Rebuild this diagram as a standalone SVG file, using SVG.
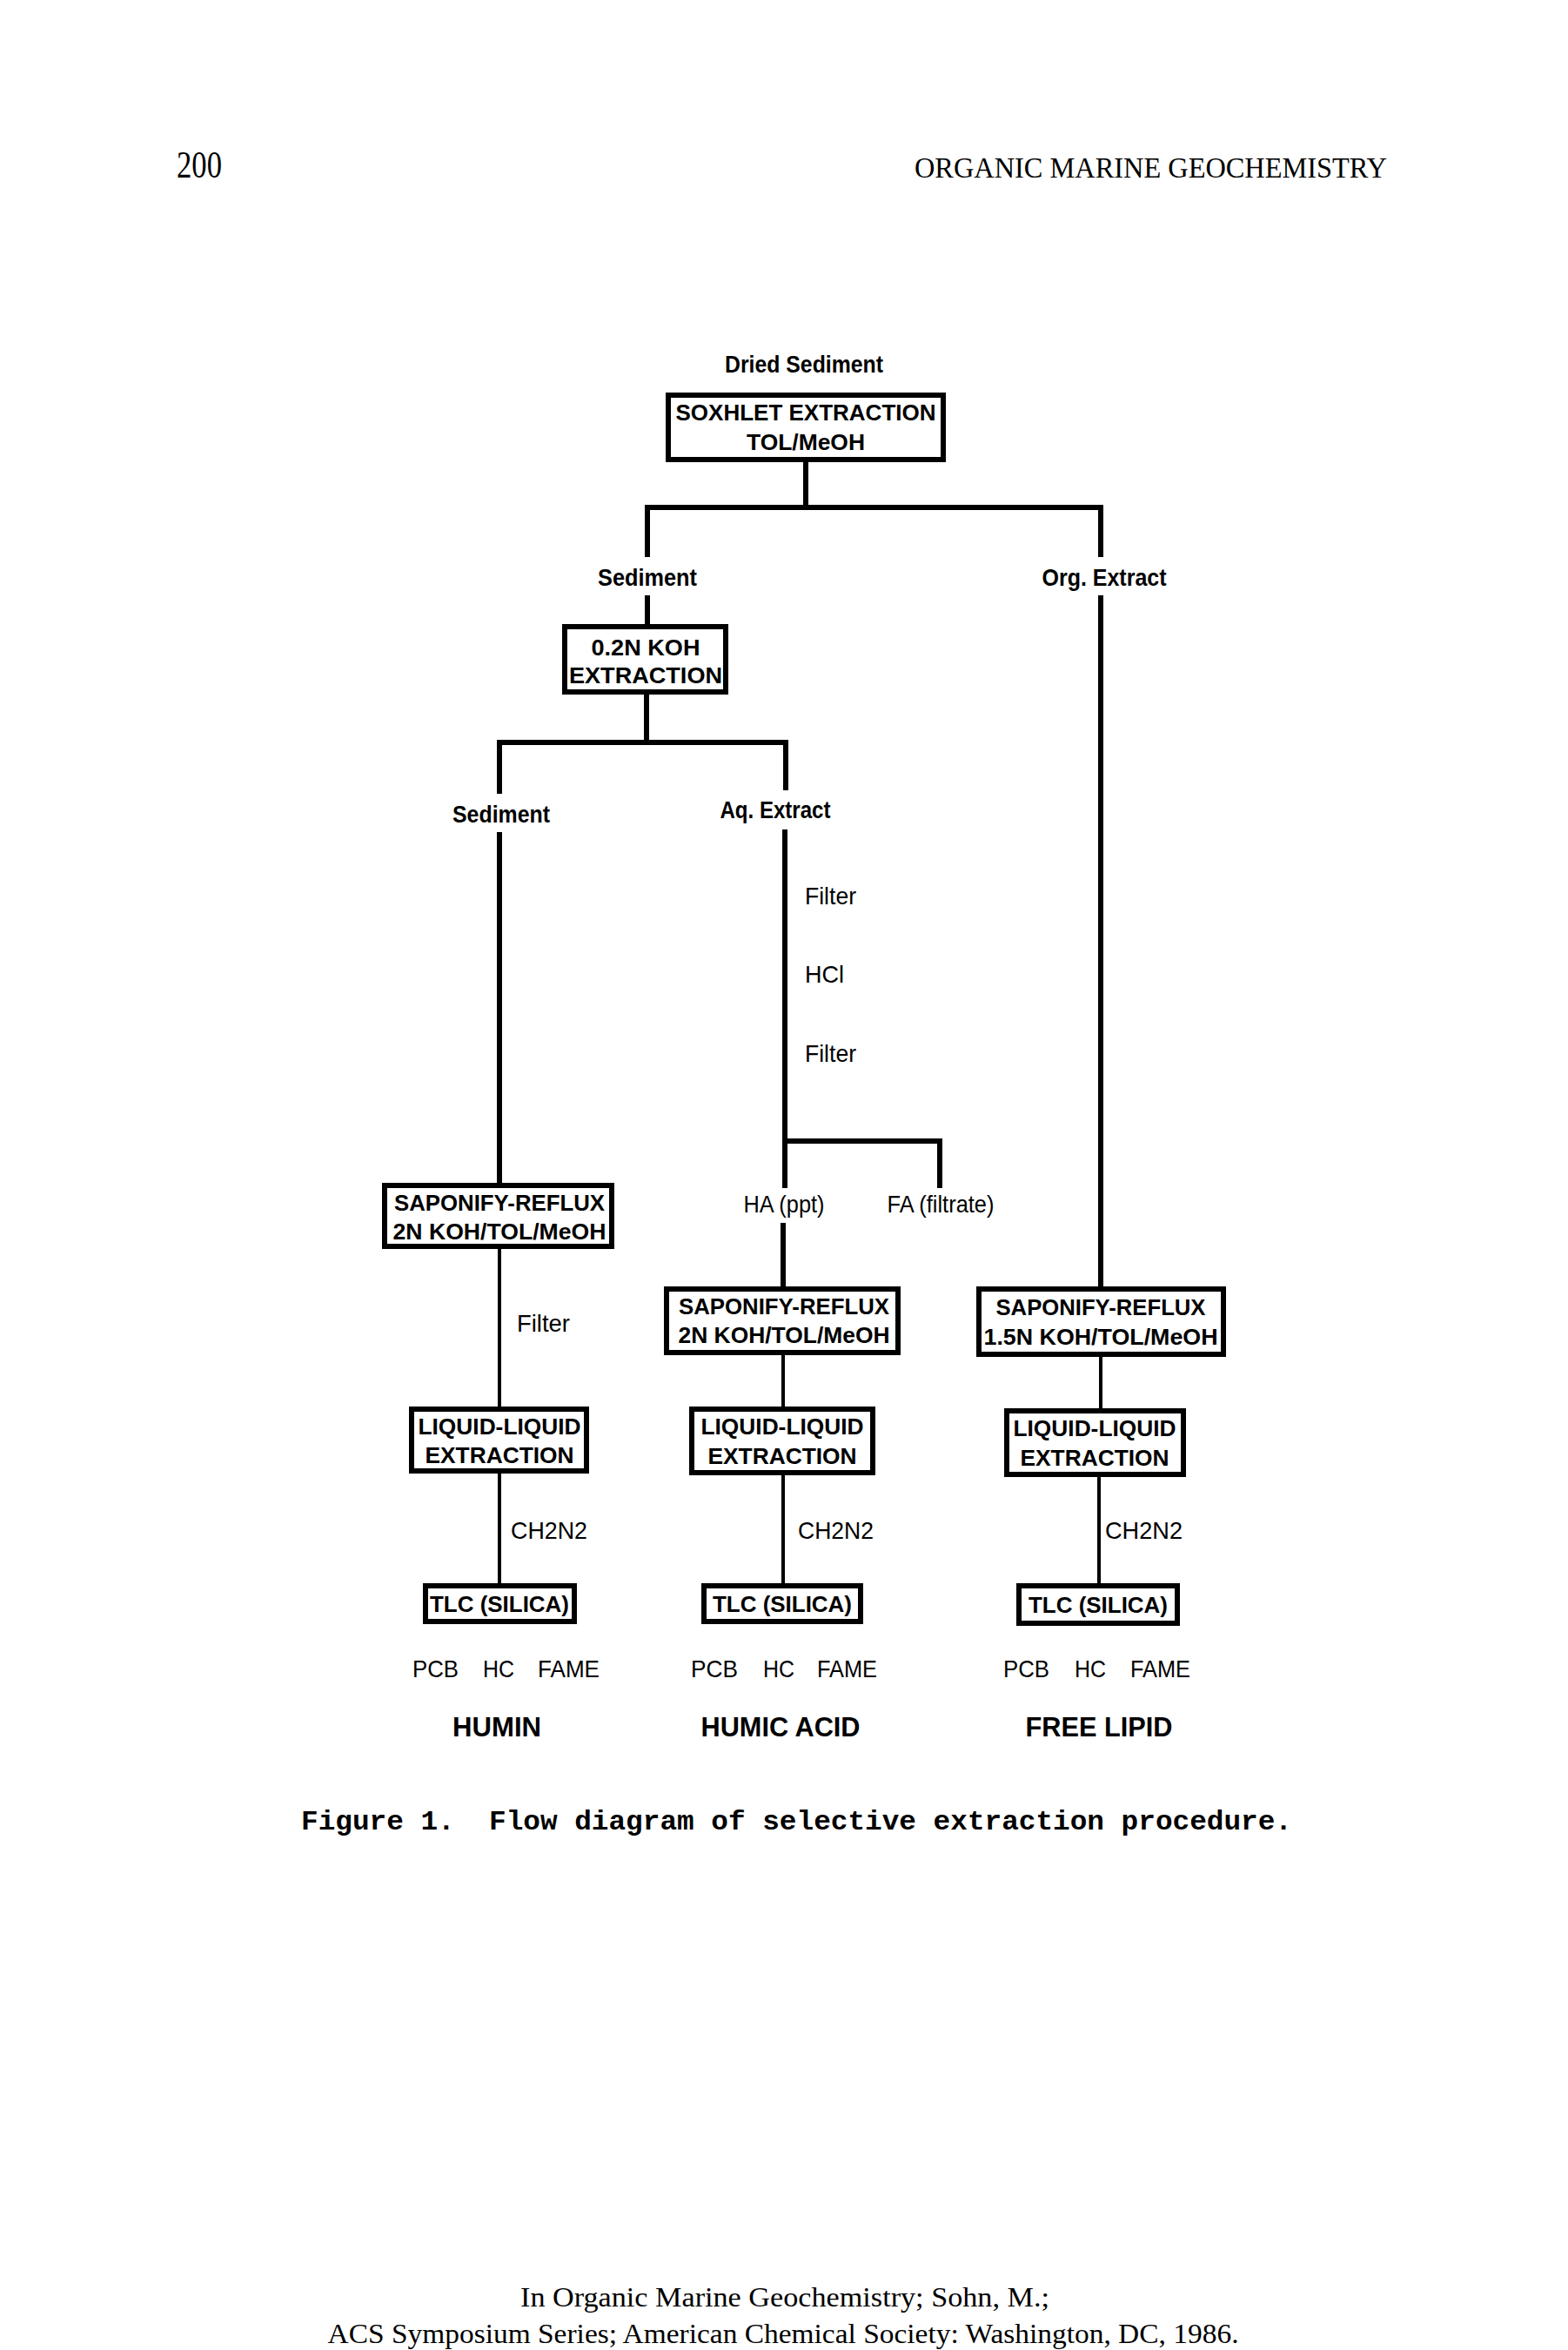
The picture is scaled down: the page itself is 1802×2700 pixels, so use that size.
<svg xmlns="http://www.w3.org/2000/svg" width="1802" height="2700" viewBox="0 0 1802 2700">
<style>
.box{fill:#fff;stroke:#000;stroke-width:6}
.ln{stroke:#000;stroke-width:6;fill:none;stroke-linecap:butt}
.ln2{stroke:#000;stroke-width:4;fill:none}
.bt{font-family:"Liberation Sans",Arial,sans-serif;font-weight:bold;font-size:25px;text-anchor:middle;fill:#000}
.lb{font-family:"Liberation Sans",Arial,sans-serif;font-weight:bold;font-size:28px;text-anchor:middle;fill:#000}
.lr{font-family:"Liberation Sans",Arial,sans-serif;font-size:28px;fill:#000}
.big{font-family:"Liberation Sans",Arial,sans-serif;font-weight:bold;font-size:32px;text-anchor:middle;fill:#000}
.serif{font-family:"Liberation Serif","Times New Roman",serif;fill:#000}
.cap{font-family:"Liberation Mono","Courier New",monospace;font-weight:bold;font-size:32px;fill:#000}
</style>
<rect width="1802" height="2700" fill="#fff"/>
<text class="serif" x="203" y="204" font-size="44" textLength="52" lengthAdjust="spacingAndGlyphs">200</text>
<text class="serif" x="1051" y="204" font-size="34" textLength="543" lengthAdjust="spacingAndGlyphs">ORGANIC MARINE GEOCHEMISTRY</text>

<g id="connectors">
<path class="ln" d="M926,531 V583 M741,583 H1268 M744,580 V640 M1265,580 V640"/>
<path class="ln" d="M744,684 V717 M1265,684 V1478"/>
<path class="ln" d="M743,798 V853 M571,853 H906 M574,850 V912 M903,850 V908"/>
<path class="ln" d="M574,956 V1359 M902,953 V1365 M902,1311 H1083 M1080,1308 V1365 M900,1405 V1478"/>
<path class="ln2" d="M574,1435 V1616 M900,1557 V1616 M1265,1559 V1618"/>
<path class="ln2" d="M574,1693 V1819 M900,1695 V1819 M1263,1697 V1819"/>
</g>

<text class="lb" x="924" y="428" textLength="182" lengthAdjust="spacingAndGlyphs">Dried Sediment</text>
<g id="soxhlet">
<rect class="box" x="768" y="454" width="316" height="74"/>
<text class="bt" x="926" y="483" textLength="299" lengthAdjust="spacingAndGlyphs">SOXHLET EXTRACTION</text>
<text class="bt" x="926" y="517" textLength="136" lengthAdjust="spacingAndGlyphs">TOL/MeOH</text>
</g>
<text class="lb" x="744" y="673" textLength="114" lengthAdjust="spacingAndGlyphs">Sediment</text>
<text class="lb" x="1269" y="673" textLength="143" lengthAdjust="spacingAndGlyphs">Org. Extract</text>
<g id="koh">
<rect class="box" x="649" y="720" width="185" height="75"/>
<text class="bt" x="742" y="753" textLength="125" lengthAdjust="spacingAndGlyphs">0.2N KOH</text>
<text class="bt" x="742" y="785" textLength="176" lengthAdjust="spacingAndGlyphs">EXTRACTION</text>
</g>
<text class="lb" x="576" y="945" textLength="112" lengthAdjust="spacingAndGlyphs">Sediment</text>
<text class="lb" x="891" y="940" textLength="127" lengthAdjust="spacingAndGlyphs">Aq. Extract</text>
<text class="lr" x="925" y="1039" textLength="59" lengthAdjust="spacingAndGlyphs">Filter</text>
<text class="lr" x="925" y="1129" textLength="45" lengthAdjust="spacingAndGlyphs">HCl</text>
<text class="lr" x="925" y="1220" textLength="59" lengthAdjust="spacingAndGlyphs">Filter</text>
<text class="lr" x="901" y="1393" text-anchor="middle" textLength="93" lengthAdjust="spacingAndGlyphs">HA (ppt)</text>
<text class="lr" x="1081" y="1393" text-anchor="middle" textLength="123" lengthAdjust="spacingAndGlyphs">FA (filtrate)</text>

<g id="sap-left">
<rect class="box" x="442" y="1362" width="261" height="70"/>
<text class="bt" x="574" y="1391" textLength="242" lengthAdjust="spacingAndGlyphs">SAPONIFY-REFLUX</text>
<text class="bt" x="574" y="1424" textLength="245" lengthAdjust="spacingAndGlyphs">2N KOH/TOL/MeOH</text>
</g>
<g id="sap-mid">
<rect class="box" x="766" y="1481" width="266" height="73"/>
<text class="bt" x="901" y="1510" textLength="242" lengthAdjust="spacingAndGlyphs">SAPONIFY-REFLUX</text>
<text class="bt" x="901" y="1543" textLength="243" lengthAdjust="spacingAndGlyphs">2N KOH/TOL/MeOH</text>
</g>
<g id="sap-right">
<rect class="box" x="1125" y="1481" width="281" height="75"/>
<text class="bt" x="1265" y="1511" textLength="241" lengthAdjust="spacingAndGlyphs">SAPONIFY-REFLUX</text>
<text class="bt" x="1265" y="1545" textLength="269" lengthAdjust="spacingAndGlyphs">1.5N KOH/TOL/MeOH</text>
</g>
<text class="lr" x="594" y="1530" textLength="61" lengthAdjust="spacingAndGlyphs">Filter</text>

<g id="lle-left">
<rect class="box" x="473" y="1619" width="201" height="71"/>
<text class="bt" x="574" y="1648" textLength="187" lengthAdjust="spacingAndGlyphs">LIQUID-LIQUID</text>
<text class="bt" x="574" y="1681" textLength="171" lengthAdjust="spacingAndGlyphs">EXTRACTION</text>
</g>
<g id="lle-mid">
<rect class="box" x="795" y="1619" width="208" height="73"/>
<text class="bt" x="899" y="1648" textLength="187" lengthAdjust="spacingAndGlyphs">LIQUID-LIQUID</text>
<text class="bt" x="899" y="1682" textLength="171" lengthAdjust="spacingAndGlyphs">EXTRACTION</text>
</g>
<g id="lle-right">
<rect class="box" x="1157" y="1621" width="203" height="73"/>
<text class="bt" x="1258" y="1650" textLength="187" lengthAdjust="spacingAndGlyphs">LIQUID-LIQUID</text>
<text class="bt" x="1258" y="1684" textLength="171" lengthAdjust="spacingAndGlyphs">EXTRACTION</text>
</g>
<text class="lr" x="587" y="1768" textLength="88" lengthAdjust="spacingAndGlyphs">CH2N2</text>
<text class="lr" x="917" y="1768" textLength="87" lengthAdjust="spacingAndGlyphs">CH2N2</text>
<text class="lr" x="1270" y="1768" textLength="89" lengthAdjust="spacingAndGlyphs">CH2N2</text>

<g id="tlc-left">
<rect class="box" x="489" y="1822" width="171" height="41"/>
<text class="bt" x="574" y="1852" textLength="160" lengthAdjust="spacingAndGlyphs">TLC (SILICA)</text>
</g>
<g id="tlc-mid">
<rect class="box" x="809" y="1822" width="180" height="41"/>
<text class="bt" x="899" y="1852" textLength="160" lengthAdjust="spacingAndGlyphs">TLC (SILICA)</text>
</g>
<g id="tlc-right">
<rect class="box" x="1171" y="1822" width="182" height="43"/>
<text class="bt" x="1262" y="1853" textLength="160" lengthAdjust="spacingAndGlyphs">TLC (SILICA)</text>
</g>

<text class="lr" x="474" y="1927" textLength="53" lengthAdjust="spacingAndGlyphs">PCB</text>
<text class="lr" x="555" y="1927" textLength="36" lengthAdjust="spacingAndGlyphs">HC</text>
<text class="lr" x="618" y="1927" textLength="71" lengthAdjust="spacingAndGlyphs">FAME</text>
<text class="lr" x="794" y="1927" textLength="54" lengthAdjust="spacingAndGlyphs">PCB</text>
<text class="lr" x="877" y="1927" textLength="36" lengthAdjust="spacingAndGlyphs">HC</text>
<text class="lr" x="939" y="1927" textLength="69" lengthAdjust="spacingAndGlyphs">FAME</text>
<text class="lr" x="1153" y="1927" textLength="53" lengthAdjust="spacingAndGlyphs">PCB</text>
<text class="lr" x="1235" y="1927" textLength="36" lengthAdjust="spacingAndGlyphs">HC</text>
<text class="lr" x="1299" y="1927" textLength="69" lengthAdjust="spacingAndGlyphs">FAME</text>

<text class="big" x="571" y="1995" textLength="102" lengthAdjust="spacingAndGlyphs">HUMIN</text>
<text class="big" x="897" y="1995" textLength="183" lengthAdjust="spacingAndGlyphs">HUMIC ACID</text>
<text class="big" x="1263" y="1995" textLength="169" lengthAdjust="spacingAndGlyphs">FREE LIPID</text>

<text class="cap" x="346" y="2102" textLength="1139" lengthAdjust="spacingAndGlyphs" xml:space="preserve">Figure 1.  Flow diagram of selective extraction procedure.</text>

<text class="serif" x="902" y="2650" font-size="32" text-anchor="middle" textLength="608" lengthAdjust="spacingAndGlyphs">In Organic Marine Geochemistry; Sohn, M.;</text>
<text class="serif" x="900" y="2692" font-size="32" text-anchor="middle" textLength="1047" lengthAdjust="spacingAndGlyphs">ACS Symposium Series; American Chemical Society: Washington, DC, 1986.</text>
</svg>
